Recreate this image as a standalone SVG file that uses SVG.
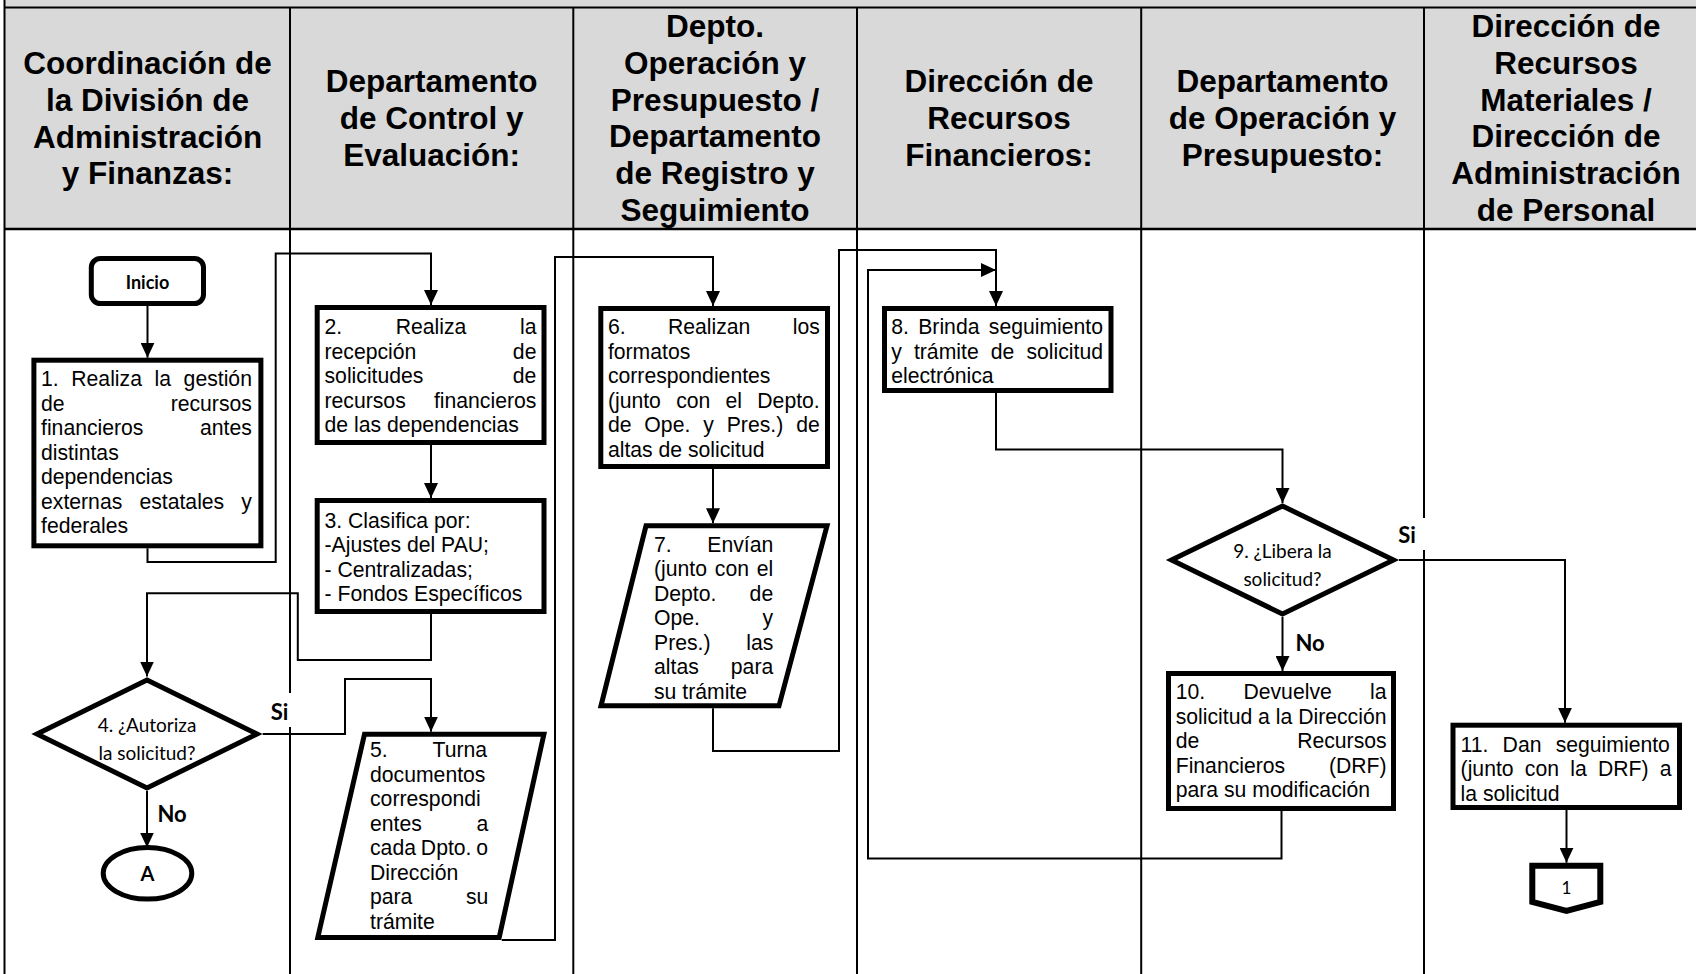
<svg xmlns="http://www.w3.org/2000/svg" width="1696" height="974" viewBox="0 0 1696 974">
<style>
.tb{fill:none;stroke:#000;stroke-width:2}
.hd{font-family:"Liberation Sans",Arial,sans-serif;font-weight:bold;font-size:31.5px;text-anchor:middle;fill:#000}
.bx{fill:#fff;stroke:#000;stroke-width:5;stroke-linejoin:miter}
.t{font-family:"Liberation Sans",Arial,sans-serif;font-size:21.2px;fill:#000}
.c{font-family:Lato,"Open Sans",sans-serif;fill:#000;text-anchor:middle}
.lb{font-family:Lato,"Open Sans",sans-serif;font-weight:bold;font-size:22px;fill:#000;text-anchor:middle}
.cn{fill:none;stroke:#000;stroke-width:2}
</style>
<defs>
<marker id="ah" viewBox="0 0 15 14" refX="15" refY="7" markerWidth="15" markerHeight="14" markerUnits="userSpaceOnUse" orient="auto"><path d="M0,0 L15,7 L0,14 z" fill="#000"/></marker>
</defs>
<rect x="0" y="0" width="1696" height="974" fill="#fff"/>
<g id="table">
<rect x="4.5" y="0" width="1692" height="229" fill="#d9d9d9"/>
<line class="tb" x1="4.5" y1="7.5" x2="1696" y2="7.5"/>
<line class="tb" x1="4.5" y1="229" x2="1696" y2="229" style="stroke-width:2.6"/>
<line class="tb" x1="4.5" y1="0" x2="4.5" y2="974"/>
<line class="tb" x1="290" y1="7.5" x2="290" y2="974"/>
<line class="tb" x1="573.3" y1="7.5" x2="573.3" y2="974"/>
<line class="tb" x1="857" y1="7.5" x2="857" y2="974"/>
<line class="tb" x1="1141.2" y1="7.5" x2="1141.2" y2="974"/>
<line class="tb" x1="1424" y1="7.5" x2="1424" y2="974"/>
<text class="hd"><tspan x="147.6" y="74">Coordinación de</tspan><tspan x="147.6" y="110.8">la División de</tspan><tspan x="147.6" y="147.6">Administración</tspan><tspan x="147.6" y="184.4">y Finanzas:</tspan></text>
<text class="hd"><tspan x="431.6" y="92.2">Departamento</tspan><tspan x="431.6" y="129">de Control y</tspan><tspan x="431.6" y="165.8">Evaluación:</tspan></text>
<text class="hd"><tspan x="715" y="37">Depto.</tspan><tspan x="715" y="73.8">Operación y</tspan><tspan x="715" y="110.6">Presupuesto /</tspan><tspan x="715" y="147.4">Departamento</tspan><tspan x="715" y="184.2">de Registro y</tspan><tspan x="715" y="221">Seguimiento</tspan></text>
<text class="hd"><tspan x="999" y="92.2">Dirección de</tspan><tspan x="999" y="129">Recursos</tspan><tspan x="999" y="165.8">Financieros:</tspan></text>
<text class="hd"><tspan x="1282.5" y="92.2">Departamento</tspan><tspan x="1282.5" y="129">de Operación y</tspan><tspan x="1282.5" y="165.8">Presupuesto:</tspan></text>
<text class="hd"><tspan x="1566" y="37">Dirección de</tspan><tspan x="1566" y="73.8">Recursos</tspan><tspan x="1566" y="110.6">Materiales /</tspan><tspan x="1566" y="147.4">Dirección de</tspan><tspan x="1566" y="184.2">Administración</tspan><tspan x="1566" y="221">de Personal</tspan></text>
</g>
<g id="connectors">
<path class="cn" d="M147.5,306 V357.7" marker-end="url(#ah)"/>
<path class="cn" d="M147.5,548.3 V562 H275.7 V253.5 H431 V305" marker-end="url(#ah)"/>
<path class="cn" d="M431,445 V498" marker-end="url(#ah)"/>
<path class="cn" d="M431,614 V660 H297.8 V593.3 H147 V676.5" marker-end="url(#ah)"/>
<path class="cn" d="M262.7,734 H345 V679 H431 V731.7" marker-end="url(#ah)"/>
<path class="cn" d="M147,791 V847.5" marker-end="url(#ah)"/>
<path class="cn" d="M501.7,940 H555 V257 H713 V306" marker-end="url(#ah)"/>
<path class="cn" d="M713,469 V523.3" marker-end="url(#ah)"/>
<path class="cn" d="M713,708.3 V751 H839 V250 H996 V306" marker-end="url(#ah)"/>
<path class="cn" d="M1281.5,811 V858.5 H868 V270 H996" marker-end="url(#ah)"/>
<path class="cn" d="M996,393 V449.5 H1282.5 V503" marker-end="url(#ah)"/>
<path class="cn" d="M1282.5,617 V671" marker-end="url(#ah)"/>
<path class="cn" d="M1399,560 H1565 V722.7" marker-end="url(#ah)"/>
<path class="cn" d="M1566.5,810 V862.7" marker-end="url(#ah)"/>
</g>
<g id="labels">
<rect x="265" y="693" width="28" height="34" fill="#fff"/>
<text class="lb" x="279.5" y="720">Si</text>
<text class="lb" x="172" y="821.5">No</text>
<rect x="1395" y="518" width="34" height="32" fill="#fff"/>
<text class="lb" x="1407" y="542.7">Si</text>
<text class="lb" x="1310" y="650.7">No</text>
</g>
<g id="inicio">
<rect class="bx" x="91.3" y="258.5" width="112.2" height="45" rx="9"/>
<text class="c" x="147.5" y="289" style="font-weight:bold;font-size:18px">Inicio</text>
</g>
<g id="n1">
<rect class="bx" x="33.9" y="360.2" width="227" height="185.6"/>
<text class="t" x="41" y="386.2" style="word-spacing:6.71px">1. Realiza la gestión</text>
<text class="t" x="41" y="410.7" style="word-spacing:100.2px">de recursos</text>
<text class="t" x="41" y="435.2" style="word-spacing:50.7px">financieros antes</text>
<text class="t" x="41" y="459.7">distintas</text>
<text class="t" x="41" y="484.2">dependencias</text>
<text class="t" x="41" y="508.7" style="word-spacing:11.26px">externas estatales y</text>
<text class="t" x="41" y="533.2">federales</text>
</g>
<g id="n2">
<rect class="bx" x="317.2" y="307.5" width="226.8" height="135"/>
<text class="t" x="324.5" y="334.2" style="word-spacing:47.66px">2. Realiza la</text>
<text class="t" x="324.5" y="358.7" style="word-spacing:90.6px">recepción de</text>
<text class="t" x="324.5" y="383.2" style="word-spacing:83.5px">solicitudes de</text>
<text class="t" x="324.5" y="407.7" style="word-spacing:22.3px">recursos financieros</text>
<text class="t" x="324.5" y="432.2">de las dependencias</text>
</g>
<g id="n3">
<rect class="bx" x="317.2" y="500.5" width="226.8" height="111"/>
<text class="t" x="324.5" y="527.9">3. Clasifica por:</text>
<text class="t" x="324.5" y="552.4">-Ajustes del PAU;</text>
<text class="t" x="324.5" y="576.9">- Centralizadas;</text>
<text class="t" x="324.5" y="601.4">- Fondos Específicos</text>
</g>
<g id="n4">
<path class="bx" d="M147,680 L257,734 L147,788 L37,734 Z"/>
<text class="c" style="font-size:19px"><tspan x="147" y="731.5">4. ¿Autoriza</tspan><tspan x="147" y="760">la solicitud?</tspan></text>
</g>
<g id="nA">
<ellipse class="bx" cx="147.5" cy="873.3" rx="44.3" ry="25.8"/>
<text class="c" x="147.5" y="881" style="font-weight:bold;font-size:20px">A</text>
</g>
<g id="n5">
<path class="bx" d="M364.5,734.2 L543.9,734.2 L499.2,937.5 L317.8,937.5 Z"/>
<text class="t" x="370" y="757.3" style="word-spacing:39.3px">5. Turna</text>
<text class="t" x="370" y="781.8">documentos</text>
<text class="t" x="370" y="806.3">correspondi</text>
<text class="t" x="370" y="830.8" style="word-spacing:48.7px">entes a</text>
<text class="t" x="370" y="855.3" style="word-spacing:-1px">cada Dpto. o</text>
<text class="t" x="370" y="879.8">Dirección</text>
<text class="t" x="370" y="904.3" style="word-spacing:47.6px">para su</text>
<text class="t" x="370" y="928.8">trámite</text>
</g>
<g id="n6">
<rect class="bx" x="600.8" y="308.5" width="226.7" height="158"/>
<text class="t" x="607.9" y="334.2" style="word-spacing:36.46px">6. Realizan los</text>
<text class="t" x="607.9" y="358.7">formatos</text>
<text class="t" x="607.9" y="383.2">correspondientes</text>
<text class="t" x="607.9" y="407.7" style="word-spacing:9.37px">(junto con el Depto.</text>
<text class="t" x="607.9" y="432.2" style="word-spacing:7.03px">de Ope. y Pres.) de</text>
<text class="t" x="607.9" y="456.7">altas de solicitud</text>
</g>
<g id="n7">
<path class="bx" d="M646,525.8 L827,525.8 L779,705.8 L601,705.8 Z"/>
<text class="t" x="654" y="551.7" style="word-spacing:29.7px">7. Envían</text>
<text class="t" x="654" y="576.2" style="word-spacing:1.9px">(junto con el</text>
<text class="t" x="654" y="600.7" style="word-spacing:27.3px">Depto. de</text>
<text class="t" x="654" y="625.2" style="word-spacing:56.8px">Ope. y</text>
<text class="t" x="654" y="649.7" style="word-spacing:29.8px">Pres.) las</text>
<text class="t" x="654" y="674.2" style="word-spacing:26.2px">altas para</text>
<text class="t" x="654" y="698.7">su trámite</text>
</g>
<g id="n8">
<rect class="bx" x="884.5" y="308.5" width="226.5" height="82"/>
<text class="t" x="891.2" y="334.2" style="word-spacing:3.46px">8. Brinda seguimiento</text>
<text class="t" x="891.2" y="358.7" style="word-spacing:6.24px">y trámite de solicitud</text>
<text class="t" x="891.2" y="383.2">electrónica</text>
</g>
<g id="n9">
<path class="bx" d="M1282.5,506 L1393.5,560 L1282.5,614 L1171.5,560 Z"/>
<text class="c" style="font-size:19px"><tspan x="1282.5" y="557.5">9. ¿Libera la</tspan><tspan x="1282.5" y="586">solicitud?</tspan></text>
</g>
<g id="n10">
<rect class="bx" x="1168.5" y="673.5" width="225" height="135"/>
<text class="t" x="1175.7" y="699.3" style="word-spacing:32.4px">10. Devuelve la</text>
<text class="t" x="1175.7" y="723.8">solicitud a la Dirección</text>
<text class="t" x="1175.7" y="748.3" style="word-spacing:92px">de Recursos</text>
<text class="t" x="1175.7" y="772.8" style="word-spacing:37.8px">Financieros (DRF)</text>
<text class="t" x="1175.7" y="797.3">para su modificación</text>
</g>
<g id="n11">
<rect class="bx" x="1453" y="725.2" width="226.5" height="82.3"/>
<text class="t" x="1460.6" y="751.7" style="word-spacing:8.26px">11. Dan seguimiento</text>
<text class="t" x="1460.6" y="776.2" style="word-spacing:5.33px">(junto con la DRF) a</text>
<text class="t" x="1460.6" y="800.7">la solicitud</text>
</g>
<g id="p1">
<path class="bx" d="M1532.3,865.7 L1600.3,865.7 L1600.3,902 L1566.5,911 L1532.3,902 Z" style="stroke-width:6"/>
<text class="c" x="1566.5" y="893.5" style="font-size:17px">1</text>
</g>
</svg>
